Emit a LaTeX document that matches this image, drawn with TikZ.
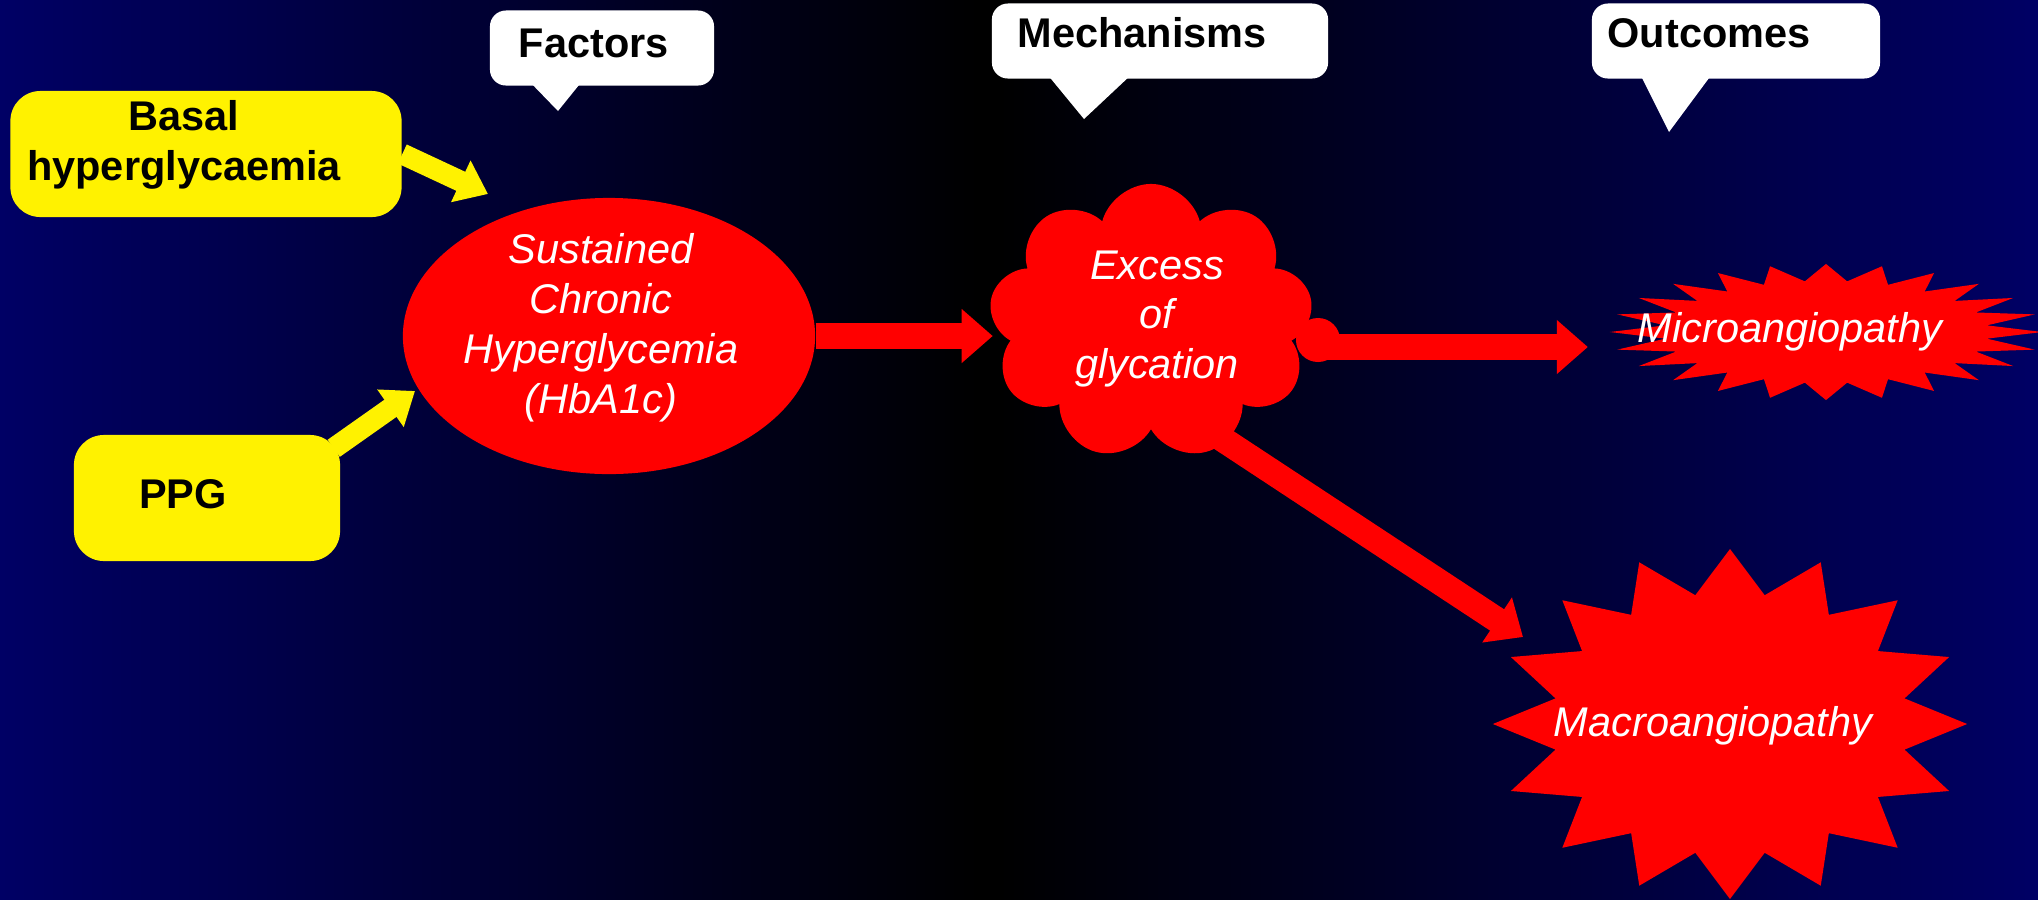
\documentclass[tikz,border=0pt]{standalone}
\usepackage{fontspec}
\setmainfont{Liberation Sans}
\usetikzlibrary{arrows.meta,positioning,shapes.geometric,shapes.symbols,backgrounds}

\definecolor{slideblue}{RGB}{0,0,102}

\begin{document}
\begin{tikzpicture}[
    x=0.01cm, y=-0.01cm,
    callout/.style={fill=white, rounded corners=0.16cm, minimum height=0.75cm},
    head/.style={font=\fontsize{11.8}{14.2}\selectfont\bfseries, inner sep=0pt, anchor=base west},
    factor/.style={fill=yellow, rounded corners=0.3cm, minimum height=1.26cm},
    factortext/.style={font=\fontsize{11.8}{14.2}\selectfont\bfseries, align=center, inner sep=0pt},
    effect/.style={fill=red, inner sep=0pt},
    effecttext/.style={font=\fontsize{11.8}{14.2}\selectfont\itshape, text=white, align=center, inner sep=0pt},
    yarrow/.style={yellow, line width=0.21cm, -{Triangle[length=0.3cm, width=0.44cm]}},
    rarrow/.style={red, line width=0.255cm, -{Triangle[length=0.31cm, width=0.52cm]}}
    ]
    \useasboundingbox (0,0) rectangle (2038,899);

    \node[callout, minimum width=2.24cm] (factorsbox) at (602,48) {};
    \node[callout, minimum width=3.36cm] (mechbox) at (1160,41) {};
    \node[callout, minimum width=2.88cm] (outbox) at (1736,41) {};
    \fill[white] (528,80) -- (558,111) -- (583,80) -- cycle;
    \fill[white] (1047,74) -- (1084,119) -- (1132,74) -- cycle;
    \fill[white] (1640,74) -- (1669,132) -- (1712,74) -- cycle;
    \node[head] (factors) at (518,57) {Factors};
    \node[head] (mechanisms) at (1017,47) {Mechanisms};
    \node[head] (outcomes) at (1607,47) {Outcomes};

    \node[factor, minimum width=3.91cm] (basal) at (206,154) {};
    \node[factortext] (basaltext) at (184,145) {Basal\\hyperglycaemia};
    \node[factor, minimum width=2.66cm] (ppg) at (207,498) {};
    \node[factortext] (ppgtext) at (183,494) {PPG};

    \node[effect, ellipse, minimum width=4.12cm, minimum height=2.76cm] (chronic) at (609,336) {};
    \node[effecttext] (chronictext) at (601,328) {Sustained\\Chronic\\Hyperglycemia\\(HbA1c)};
    \node[effect, cloud, cloud puffs=9, aspect=1.16, minimum width=3.24cm, minimum height=2.76cm] (glycation) at (1151,322) {};
    \node[effect, circle, minimum size=0.44cm] (puff) at (1318,340) {};
    \node[effecttext] (glycationtext) at (1157,319) {Excess\\of\\glycation};
    \node[effect, star, star points=24, star point ratio=1.333, minimum size=4.32cm, yscale=0.315, transform shape] (micro) at (1826,332) {};
    \node[effecttext] (microtext) at (1790,332) {Microangiopathy};
    \node[effect, star, star points=16, star point ratio=1.333, minimum size=4.74cm, yscale=0.738, transform shape] (macro) at (1730,724) {};
    \node[effecttext] (macrotext) at (1713,726) {Macroangiopathy};

    \coordinate (basaltip) at (488,194);
    \coordinate (ppgtip) at (415,391);
    \coordinate (macrotip) at (1523,637);

    \begin{scope}[on background layer]
      \shade[left color=slideblue, right color=black] (-10,-10) rectangle (978,910);
      \shade[left color=black, right color=slideblue] (998,-10) rectangle (2050,910);
      \fill[black] (976,-10) rectangle (1000,910);
      \draw[yarrow] (basal.east) -- (basaltip);
      \draw[yarrow] ([shift={(-7,14)}]ppg.north east) -- (ppgtip);
      \draw[rarrow] (chronic.east) -- (chronic.east -| glycation.west);
      \draw[rarrow, shorten >=0.2cm] ([yshift=-0.07cm]puff.center) -- ([yshift=-0.07cm]puff.center -| micro.west);
      \draw[rarrow] ([yshift=-0.7cm]glycation.center) -- (macrotip);
    \end{scope}
\end{tikzpicture}
\end{document}
